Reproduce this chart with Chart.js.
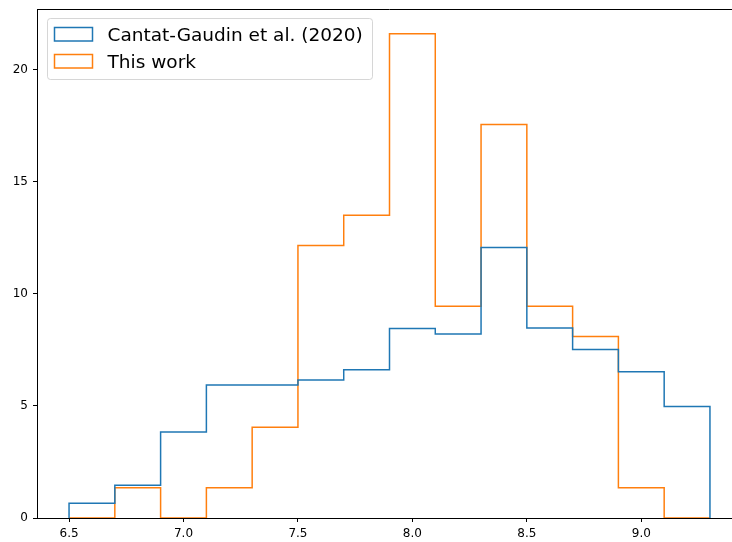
<!DOCTYPE html>
<html>
<head>
<meta charset="utf-8">
<script src="https://cdn.jsdelivr.net/npm/chart.js@4.4.0/dist/chart.umd.min.js"></script>
<style>
    html, body { margin: 0; padding: 0; background: #fff; overflow: hidden; }
    #wrap { width: 732px; height: 542px; overflow: hidden; }
    #box { width: 742px; height: 542px; }
</style>
</head>
<body>
<div id="wrap"><div id="box"><canvas id="chart"></canvas></div></div>
<script>
// ------------------- Data -------------------
const binEdges = [6.5, 6.7, 6.9, 7.1, 7.3, 7.5, 7.7, 7.9, 8.1, 8.3, 8.5, 8.7, 8.9, 9.1, 9.3];
const cantatValues = [0.66, 1.46, 3.84, 5.93, 5.93, 6.16, 6.61, 8.45, 8.21, 12.07, 8.47, 7.51, 6.52, 4.97];
const thisWorkValues = [0, 1.35, 0, 1.35, 4.05, 12.15, 13.5, 21.6, 9.45, 17.55, 9.45, 8.1, 1.35, 0];
const seriesLabels = ['Cantat-Gaudin et al. (2020)', 'This work'];
const seriesColors = ['#1f77b4', '#ff7f0e'];
const xTicks = [6.5, 7.0, 7.5, 8.0, 8.5, 9.0];
const yTicks = [0, 5, 10, 15, 20];

// step outline: (edge0, 0) -> one point per bin -> (lastEdge, 0)
function stepPoints(values) {
    const pts = [{ x: binEdges[0], y: 0 }];
    values.forEach((v, i) => pts.push({ x: binEdges[i], y: v }));
    pts.push({ x: binEdges[binEdges.length - 1], y: values[values.length - 1] });
    pts.push({ x: binEdges[binEdges.length - 1], y: 0 });
    return pts;
}

// ------------------- Plugins -------------------
const framePlugin = {
    id: 'frame',
    afterDraw(chart) {
        const { ctx, chartArea } = chart;
        ctx.save();
        ctx.strokeStyle = '#000';
        ctx.lineWidth = 1;
        ctx.beginPath();
        ctx.moveTo(chartArea.left, chartArea.top);
        ctx.lineTo(chartArea.right, chartArea.top);
        ctx.lineTo(chartArea.right, chartArea.bottom);
        ctx.stroke();
        ctx.restore();
    }
};

const legendPlugin = {
    id: 'boxLegend',
    afterDraw(chart) {
        const { ctx } = chart;
        const x = 47.5, y = 18.5;
        const w = 325, h = 61, r = 3;
        ctx.save();
        ctx.beginPath();
        ctx.roundRect(x, y, w, h, r);
        ctx.fillStyle = 'rgba(255,255,255,0.8)';
        ctx.fill();
        ctx.strokeStyle = 'rgba(204,204,204,0.8)';
        ctx.lineWidth = 1;
        ctx.stroke();
        ctx.font = '18.5px "DejaVu Sans"';
        ctx.textBaseline = 'alphabetic';
        seriesLabels.forEach((label, i) => {
            const rowY = y + 9 + i * 27;
            ctx.strokeStyle = seriesColors[i];
            ctx.lineWidth = 1.5;
            ctx.strokeRect(x + 7, rowY, 38, 13.5);
            ctx.fillStyle = '#000';
            ctx.fillText(label, x + 60, rowY + 13.2);
        });
        ctx.restore();
    }
};

// ------------------- Chart -------------------
const tickFont = { family: 'DejaVu Sans', size: 12 };

new Chart(document.getElementById('chart'), {
    type: 'line',
    data: {
        datasets: [
            {
                label: seriesLabels[0],
                data: stepPoints(cantatValues),
                borderColor: seriesColors[0],
                borderWidth: 1.5,
                stepped: 'before',
                pointRadius: 0,
                fill: false
            },
            {
                label: seriesLabels[1],
                data: stepPoints(thisWorkValues),
                borderColor: seriesColors[1],
                borderWidth: 1.5,
                stepped: 'before',
                pointRadius: 0,
                fill: false
            }
        ]
    },
    options: {
        responsive: true,
        maintainAspectRatio: false,
        animation: false,
        layout: { padding: { top: 9.5, right: 0, left: 0, bottom: 0 } },
        plugins: {
            legend: { display: false },
            tooltip: { enabled: false }
        },
        scales: {
            x: {
                type: 'linear',
                min: 6.36,
                max: 9.44,
                afterBuildTicks: axis => { axis.ticks = xTicks.map(v => ({ value: v })); },
                afterFit: scale => {
                    scale.height = 24;
                    scale.paddingLeft = 0;
                    scale.paddingRight = 0;
                },
                grid: { drawOnChartArea: false, drawTicks: true, tickLength: 4, tickColor: '#000' },
                border: { display: true, color: '#000', width: 1 },
                ticks: {
                    font: tickFont,
                    color: '#000',
                    padding: 5,
                    maxRotation: 0,
                    callback: v => v.toFixed(1)
                }
            },
            y: {
                type: 'linear',
                min: 0,
                max: 22.68,
                afterBuildTicks: axis => { axis.ticks = yTicks.map(v => ({ value: v })); },
                afterFit: scale => {
                    scale.width = 37;
                    scale.paddingTop = 0;
                    scale.paddingBottom = 0;
                },
                grid: { drawOnChartArea: false, drawTicks: true, tickLength: 4, tickColor: '#000' },
                border: { display: true, color: '#000', width: 1 },
                ticks: {
                    font: tickFont,
                    color: '#000',
                    padding: 5,
                    callback: v => String(v)
                }
            }
        }
    },
    plugins: [framePlugin, legendPlugin]
});
</script>
</body>
</html>
